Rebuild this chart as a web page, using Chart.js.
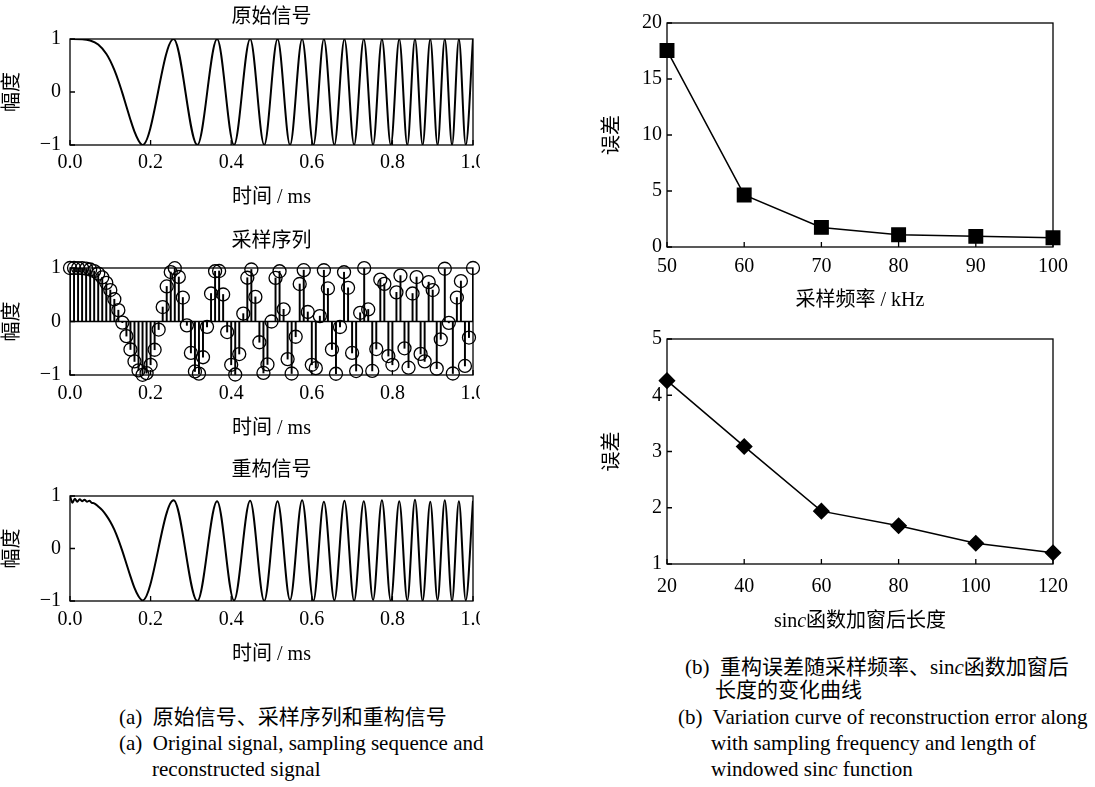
<!DOCTYPE html>
<html>
<head>
<meta charset="utf-8">
<script src="https://cdn.jsdelivr.net/npm/chart.js@4.4.1/dist/chart.umd.min.js"></script>
<style>
body { margin: 0; background: #fff; width: 1095px; height: 787px; position: relative; overflow: hidden;
       font-family: "Liberation Serif", "Noto Sans CJK SC", serif; color: #000; }
.wrap { position: absolute; overflow: hidden; }
.cap { position: absolute; white-space: nowrap; font-size: 21px; line-height: 26px; }
</style>
</head>
<body>
<div class="wrap" style="left:0;top:0;width:480px;height:215px"><canvas id="sigOrig" width="500" height="215"></canvas></div>
<div class="wrap" style="left:0;top:228px;width:480px;height:217px"><canvas id="sigSample" width="500" height="217"></canvas></div>
<div class="wrap" style="left:0;top:456px;width:480px;height:215px"><canvas id="sigRecon" width="500" height="215"></canvas></div>
<div class="wrap" style="left:560px;top:0;width:535px;height:317px"><canvas id="errFreqChart" width="535" height="317"></canvas></div>
<div class="wrap" style="left:560px;top:320px;width:535px;height:319px"><canvas id="errLenChart" width="535" height="319"></canvas></div>

<div class="cap" style="left:685px;top:654px">(b)&nbsp; 重构误差随采样频率、sin<i>c</i>函数加窗后</div>
<div class="cap" style="left:715px;top:677px">长度的变化曲线</div>
<div class="cap" style="left:119px;top:704px">(a)&nbsp; 原始信号、采样序列和重构信号</div>
<div class="cap" style="left:678px;top:704px">(b)&nbsp; Variation curve of reconstruction error along</div>
<div class="cap" style="left:119px;top:730px">(a)&nbsp; Original signal, sampling sequence and</div>
<div class="cap" style="left:711px;top:730px">with sampling frequency and length of</div>
<div class="cap" style="left:152px;top:756px">reconstructed signal</div>
<div class="cap" style="left:711px;top:756px">windowed sin<i>c</i> function</div>

<script>
const FONT = '"Liberation Serif", "Noto Sans CJK SC", serif';
Chart.defaults.font.family = FONT;
Chart.defaults.color = '#000';

// original chirp signal (ms, amplitude)
const origT = [0, 0.03, 0.05, 0.07, 0.09, 0.10, 0.11, 0.12, 0.13, 0.14, 0.15, 0.16, 0.17, 0.180,
  0.257, 0.316, 0.365, 0.407, 0.447, 0.482, 0.515, 0.546, 0.576, 0.604, 0.630, 0.656, 0.681, 0.705,
  0.729, 0.752, 0.774, 0.796, 0.817, 0.837, 0.856, 0.875, 0.894, 0.912, 0.930, 0.948, 0.965, 0.982, 1.000];
const origV = [1, 0.996, 0.972, 0.895, 0.722, 0.588, 0.416, 0.212, -0.022, -0.273, -0.523, -0.747, -0.914, -1,
  1, -1, 1, -1, 1, -1, 1, -1, 1, -1, 1, -1, 1, -1,
  1, -1, 1, -1, 1, -1, 1, -1, 1, -1, 1, -1, 1, -1, 1];

// sampling sequence (stem plot)
const sampleT = [0, 0.01, 0.02, 0.03, 0.04, 0.05, 0.06, 0.07, 0.08, 0.09,
  0.10, 0.11, 0.12, 0.13, 0.14, 0.15, 0.16, 0.17, 0.18, 0.19,
  0.20, 0.21, 0.22, 0.23, 0.24, 0.25, 0.26, 0.27, 0.28, 0.29,
  0.30, 0.31, 0.32, 0.33, 0.34, 0.35, 0.36, 0.37, 0.38, 0.39,
  0.40, 0.41, 0.42, 0.43, 0.44, 0.45, 0.46, 0.47, 0.48, 0.49,
  0.50, 0.51, 0.52, 0.53, 0.54, 0.55, 0.56, 0.57, 0.58, 0.59,
  0.60, 0.61, 0.62, 0.63, 0.64, 0.65, 0.66, 0.67, 0.68, 0.69,
  0.70, 0.71, 0.72, 0.73, 0.74, 0.75, 0.76, 0.77, 0.78, 0.79,
  0.80, 0.81, 0.82, 0.83, 0.84, 0.85, 0.86, 0.87, 0.88, 0.89,
  0.90, 0.91, 0.92, 0.93, 0.94, 0.95, 0.96, 0.97, 0.98, 0.99, 1.00];
const sampleV = [1.000, 1.000, 0.999, 0.996, 0.989, 0.972, 0.943, 0.895, 0.824, 0.723,
  0.588, 0.416, 0.212, -0.022, -0.273, -0.523, -0.747, -0.914, -0.996, -0.966,
  -0.809, -0.528, -0.150, 0.270, 0.655, 0.924, 0.996, 0.832, 0.448, -0.072,
  -0.588, -0.934, -0.975, -0.668, -0.100, 0.523, 0.939, 0.944, 0.505, -0.197,
  -0.809, -0.991, -0.608, 0.147, 0.818, 0.972, 0.460, -0.388, -0.962, -0.803,
  0.000, 0.814, 0.939, 0.228, -0.703, -0.972, -0.285, 0.701, 0.959, 0.178,
  -0.809, -0.872, 0.100, 0.958, 0.618, -0.523, -0.977, -0.103, 0.921, 0.630,
  -0.588, -0.926, 0.163, 0.999, 0.225, -0.924, -0.515, 0.782, 0.703, -0.646,
  -0.809, 0.545, 0.858, -0.501, -0.864, 0.523, 0.831, -0.606, -0.746, 0.736,
  0.588, -0.881, -0.333, 0.986, -0.025, -0.972, 0.448, 0.756, -0.831, -0.300, 1.000];

// reconstructed signal
const reconT = [0, 0.006, 0.012, 0.018, 0.024, 0.030, 0.036, 0.042, 0.048, 0.054, 0.060,
  0.07, 0.08, 0.09, 0.10, 0.11, 0.12, 0.13, 0.14, 0.15, 0.16, 0.17, 0.18,
  0.257, 0.316, 0.365, 0.407, 0.447, 0.482, 0.515, 0.546, 0.576, 0.604, 0.630, 0.656, 0.681, 0.705,
  0.729, 0.752, 0.774, 0.796, 0.817, 0.837, 0.856, 0.875, 0.894, 0.912, 0.930, 0.948, 0.965, 0.982, 1.000];
const reconV = [1.00, 0.87, 0.95, 0.89, 0.94, 0.90, 0.93, 0.89, 0.91, 0.87, 0.86,
  0.80, 0.73, 0.63, 0.51, 0.36, 0.17, -0.05, -0.29, -0.53, -0.75, -0.91, -0.99,
  0.92, -1.00, 0.90, -0.99, 0.91, -1.00, 0.90, -0.98, 0.92, -1.00, 0.89, -0.99, 0.91, -1.00,
  0.90, -0.98, 0.92, -1.00, 0.90, -0.99, 0.93, -1.00, 0.89, -0.98, 0.92, -1.00, 0.90, -0.99, 0.91];

// error vs sampling frequency
const freqKHz = [50, 60, 70, 80, 90, 100];
const errByFreq = [17.55, 4.65, 1.75, 1.10, 0.95, 0.83];

// error vs windowed sinc length
const sincLen = [20, 40, 60, 80, 100, 120];
const errByLen = [4.26, 3.09, 1.94, 1.68, 1.37, 1.20];

const pairs = (xs, ys) => xs.map((x, i) => ({x: x, y: ys[i]}));
const minusSign = v => (v < 0 ? '\u2212' + Math.abs(v) : '' + v);

// box round the plot area, ticks pointing inwards
const frame = {
    id: 'frame',
    afterDatasetsDraw(chart) {
        const {ctx, chartArea: a, scales} = chart;
        ctx.save();
        ctx.strokeStyle = '#000';
        ctx.lineWidth = 1.3;
        ctx.strokeRect(a.left, a.top, a.right - a.left, a.bottom - a.top);
        ctx.beginPath();
        scales.x.ticks.forEach(t => {
            const px = scales.x.getPixelForValue(t.value);
            ctx.moveTo(px, a.bottom);
            ctx.lineTo(px, a.bottom - 5);
        });
        scales.y.ticks.forEach(t => {
            const py = scales.y.getPixelForValue(t.value);
            ctx.moveTo(a.left, py);
            ctx.lineTo(a.left + 5, py);
        });
        ctx.stroke();
        ctx.restore();
    }
};

// x title with the italic c of sinc
const sincTitle = {
    id: 'sincTitle',
    afterDraw(chart) {
        const {ctx, chartArea: a} = chart;
        const parts = [['sin', ''], ['c', 'italic '], ['函数加窗后长度', '']];
        ctx.save();
        ctx.fillStyle = '#000';
        ctx.textBaseline = 'middle';
        let total = 0;
        parts.forEach(p => { ctx.font = p[1] + '20px ' + FONT; total += ctx.measureText(p[0]).width; });
        let x = (a.left + a.right) / 2 - total / 2;
        parts.forEach(p => {
            ctx.font = p[1] + '20px ' + FONT;
            ctx.fillText(p[0], x, a.bottom + 58);
            x += ctx.measureText(p[0]).width;
        });
        ctx.restore();
    }
};

const tickFont = {size: 20, family: FONT};
const noGrid = {display: false, drawTicks: false};

function signalChart(canvasID, title, datasets, lay) {
    return new Chart(document.getElementById(canvasID), {
        type: 'line',
        data: {datasets: datasets},
        options: {
            responsive: false,
            animation: false,
            layout: {padding: {left: 0, right: 27, top: 0, bottom: 0}},
            plugins: {legend: {display: false}, tooltip: {enabled: false}},
            scales: {
                x: {
                    type: 'linear', min: 0, max: 1, offset: false,
                    grid: noGrid, border: {display: false},
                    afterFit: s => { s.height = 70; },
                    ticks: {stepSize: 0.2, padding: lay.tickPad, font: tickFont, maxRotation: 0, autoSkip: false,
                        callback: v => v.toFixed(1)},
                    title: {display: true, text: '时间 / ms', font: tickFont, padding: {top: 0, bottom: lay.xTitlePad}}
                },
                top: {
                    type: 'linear', axis: 'x', position: 'top', min: 0, max: 1,
                    grid: noGrid, border: {display: false}, ticks: {display: false},
                    afterFit: s => { s.height = lay.topH; },
                    title: {display: true, text: title, font: tickFont, padding: {top: lay.titlePad, bottom: 0}}
                },
                y: {
                    min: -1, max: 1,
                    grid: noGrid, border: {display: false},
                    afterFit: s => { s.width = 70; },
                    ticks: {stepSize: 1, padding: 9, font: tickFont, callback: minusSign},
                    title: {display: true, text: '幅度', font: tickFont, padding: {top: 1, bottom: 0}}
                }
            }
        },
        plugins: [frame]
    });
}

signalChart('sigOrig', '原始信号', [{
    data: pairs(origT, origV), borderColor: '#000', borderWidth: 2, pointRadius: 0,
    cubicInterpolationMode: 'monotone'
}], {topH: 39, titlePad: 5.5, tickPad: 6, xTitlePad: 5.5});

signalChart('sigSample', '采样序列', [
    {
        data: pairs(sampleT, sampleV), showLine: false, pointStyle: 'circle', pointRadius: 6.5,
        pointBorderColor: '#000', pointBackgroundColor: 'rgba(0,0,0,0)', pointBorderWidth: 1.3, clip: false
    },
    {
        type: 'bar', data: pairs(sampleT, sampleV), backgroundColor: '#000', barThickness: 1.3
    },
    {
        data: pairs([0, 1], [0, 0]), borderColor: '#000', borderWidth: 1.3, pointRadius: 0
    }
], {topH: 40, titlePad: 1.7, tickPad: 6.5, xTitlePad: 4});

signalChart('sigRecon', '重构信号', [{
    data: pairs(reconT, reconV), borderColor: '#000', borderWidth: 2, pointRadius: 0,
    cubicInterpolationMode: 'monotone'
}], {topH: 40, titlePad: 3.2, tickPad: 7, xTitlePad: 4.4});

function errorChart(canvasID, xs, ys, o) {
    return new Chart(document.getElementById(canvasID), {
        type: 'line',
        data: {datasets: [{
            data: pairs(xs, ys), borderColor: '#000', borderWidth: 1.5,
            pointStyle: o.marker, pointRadius: o.radius, pointBackgroundColor: '#000', pointBorderColor: '#000',
            clip: false
        }]},
        options: {
            responsive: false,
            animation: false,
            layout: {padding: {left: 0, right: 42, top: o.padTop, bottom: 0}},
            plugins: {legend: {display: false}, tooltip: {enabled: false}},
            scales: {
                x: {
                    type: 'linear', min: xs[0], max: xs[xs.length - 1], offset: false,
                    grid: noGrid, border: {display: false},
                    afterFit: s => { s.height = o.xH; },
                    ticks: {stepSize: xs[1] - xs[0], padding: o.tickPad, font: tickFont, maxRotation: 0, autoSkip: false},
                    title: {display: !!o.xTitle, text: o.xTitle || '', font: tickFont, padding: {top: 0, bottom: 4.3}}
                },
                y: {
                    min: o.yMin, max: o.yMax,
                    grid: noGrid, border: {display: false},
                    afterFit: s => { s.width = 107; },
                    ticks: {stepSize: o.yStep, padding: 5, font: tickFont},
                    title: {display: true, text: '误差', font: tickFont, padding: {top: 41, bottom: 0}}
                }
            }
        },
        plugins: o.extra ? [frame, o.extra] : [frame]
    });
}

errorChart('errFreqChart', freqKHz, errByFreq, {
    marker: 'rect', radius: 9.5, padTop: 23, xH: 70, tickPad: 7.5,
    xTitle: '采样频率 / kHz', yMin: 0, yMax: 20, yStep: 5
});

errorChart('errLenChart', sincLen, errByLen, {
    marker: 'rectRot', radius: 7.5, padTop: 19, xH: 75, tickPad: 10.5,
    yMin: 1, yMax: 5, yStep: 1, extra: sincTitle
});
</script>
</body>
</html>
